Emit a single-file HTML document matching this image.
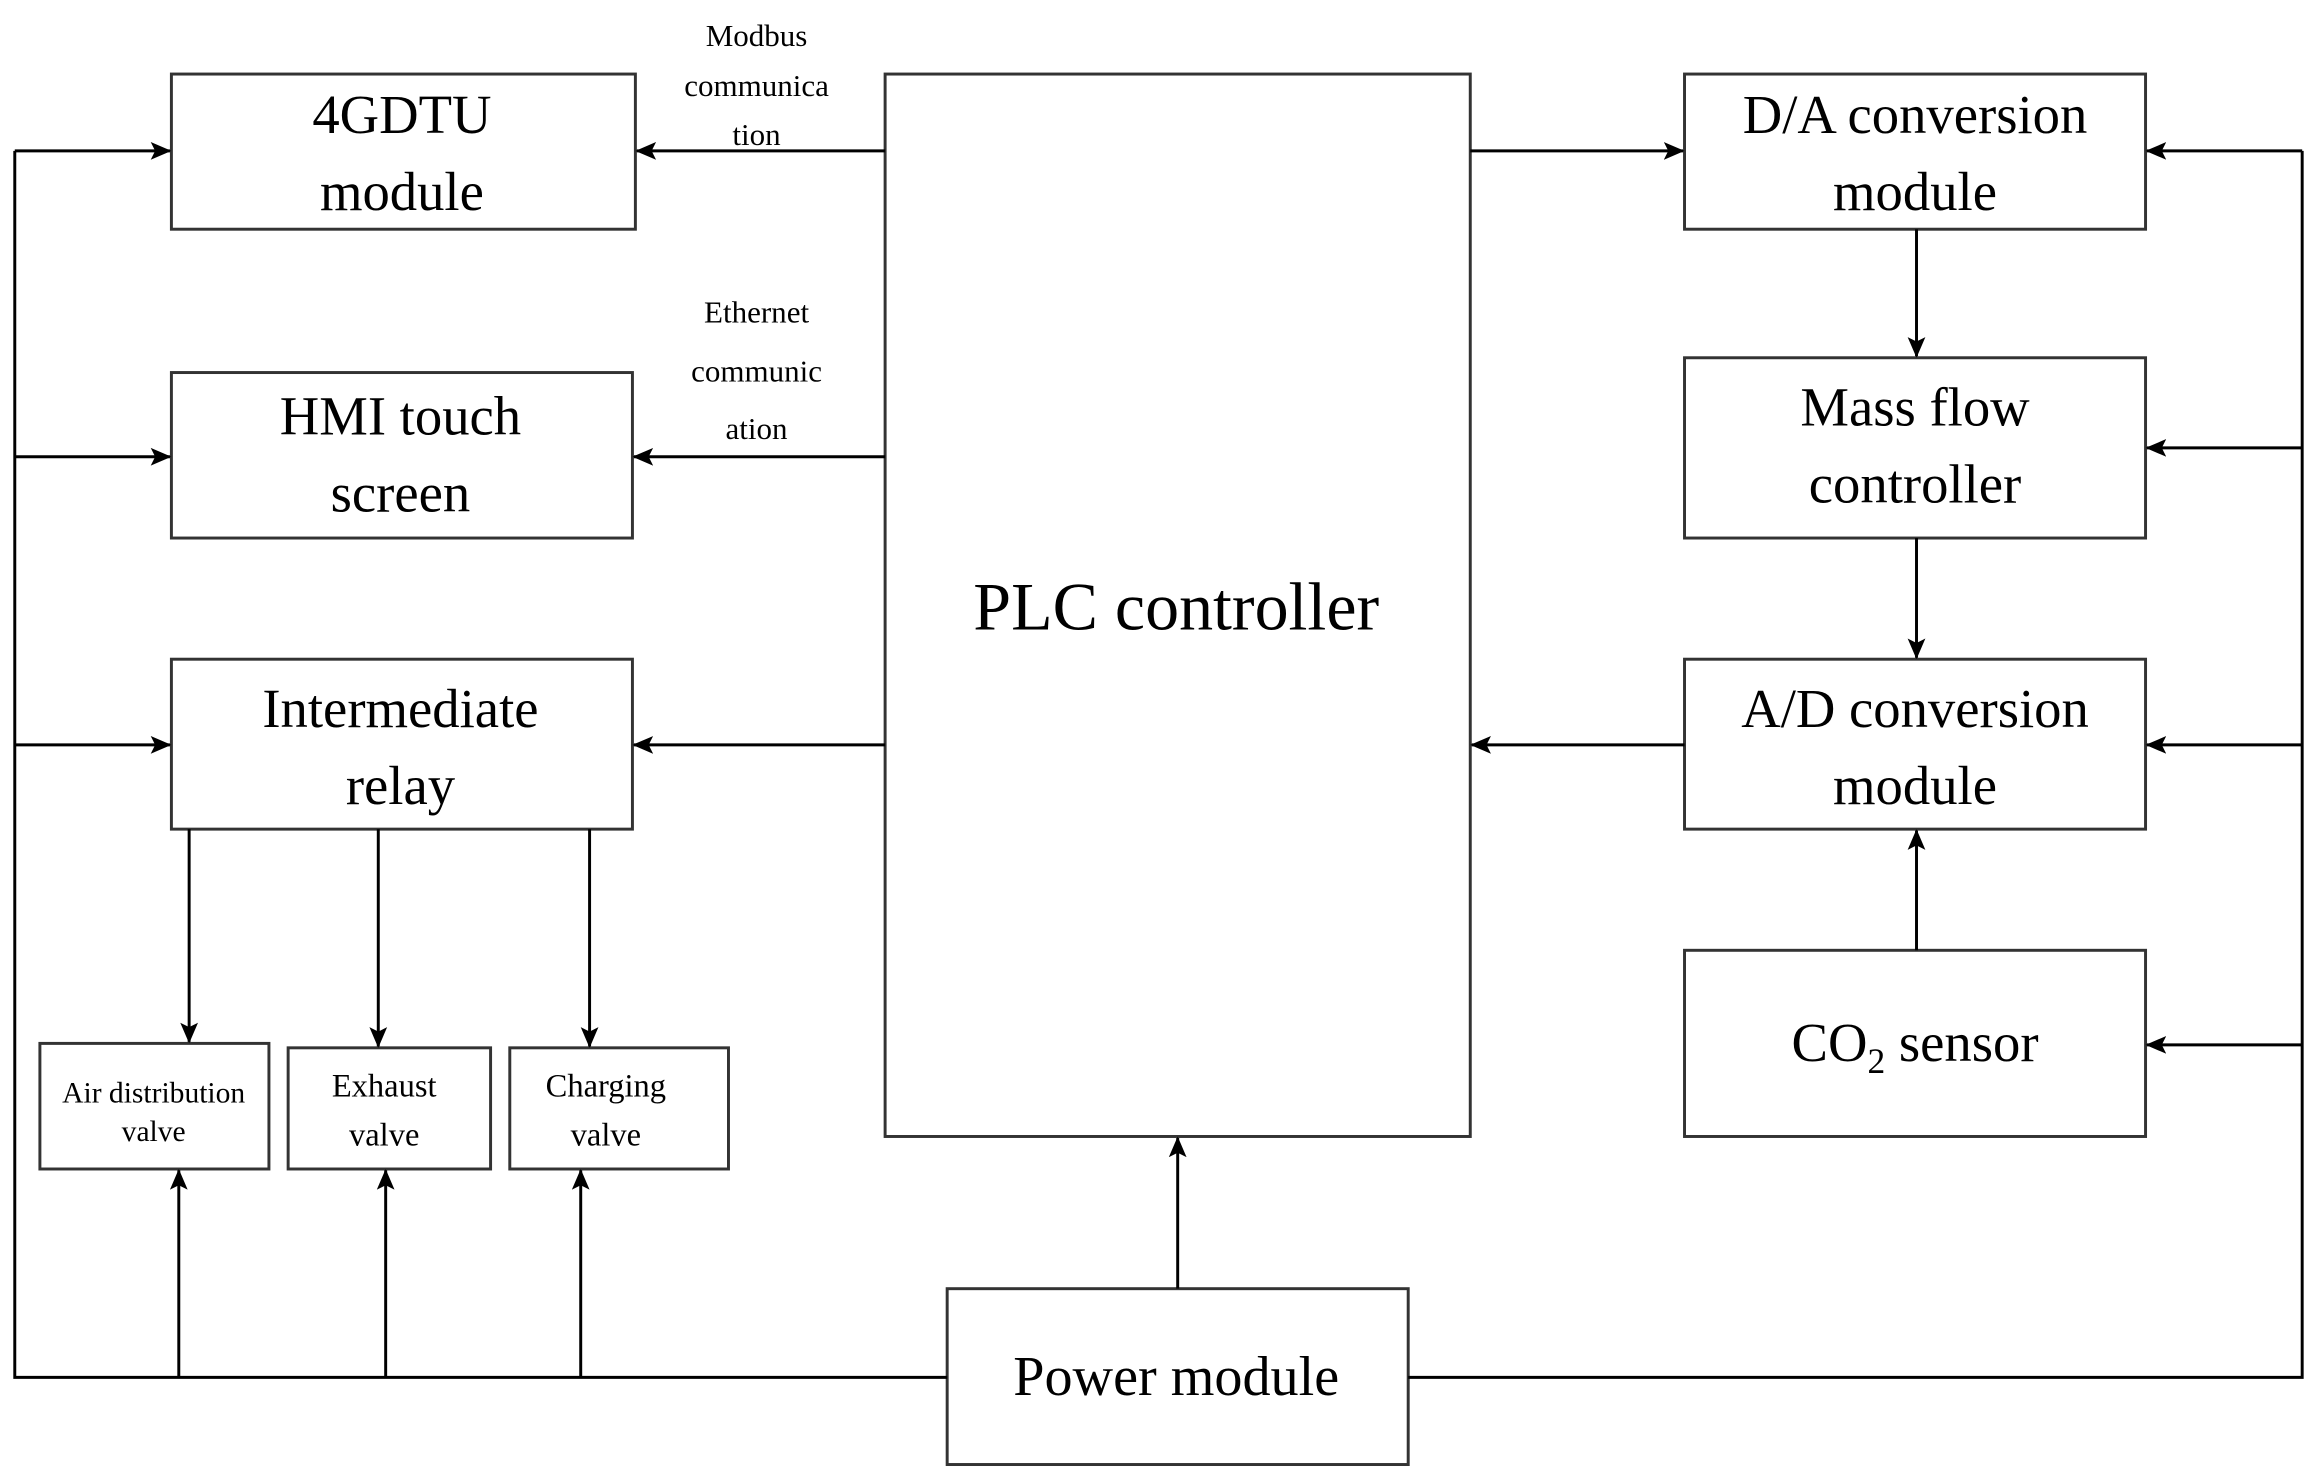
<!DOCTYPE html>
<html><head><meta charset="utf-8"><style>html,body{margin:0;padding:0;background:#fff}svg{display:block}</style></head>
<body>
<svg width="2314" height="1478" viewBox="0 0 1566 1000" xmlns="http://www.w3.org/2000/svg" font-family="'Liberation Serif', serif" fill="#000">
<defs>
<marker id="a" markerWidth="14" markerHeight="14" refX="13" refY="7" orient="auto" markerUnits="userSpaceOnUse" viewBox="0 0 14 14">
<path d="M0,1 L14,7 L0,13 L3,7 z" fill="#000"/>
</marker>
</defs>
<g fill="none" stroke="#333" stroke-width="2">
<rect x="116" y="50" width="314" height="105"/>
<rect x="116" y="252" width="312" height="112"/>
<rect x="116" y="446" width="312" height="115"/>
<rect x="599" y="50" width="396" height="719"/>
<rect x="27" y="706" width="155" height="85"/>
<rect x="195" y="709" width="137" height="82"/>
<rect x="345" y="709" width="148" height="82"/>
<rect x="641" y="872" width="312" height="119"/>
<rect x="1140" y="50" width="312" height="105"/>
<rect x="1140" y="242" width="312" height="122"/>
<rect x="1140" y="446" width="312" height="115"/>
<rect x="1140" y="643" width="312" height="126"/>
</g>
<g fill="none" stroke="#000" stroke-width="2">
<polyline points="10,102 10,932 641,932"/>
<polyline points="953,932 1558,932 1558,102"/>
</g>
<g fill="none" stroke="#000" stroke-width="2" marker-end="url(#a)">
<line x1="10" y1="102" x2="115" y2="102"/>
<line x1="10" y1="309" x2="115" y2="309"/>
<line x1="10" y1="504" x2="115" y2="504"/>
<line x1="599" y1="102" x2="431" y2="102"/>
<line x1="599" y1="309" x2="429" y2="309"/>
<line x1="599" y1="504" x2="429" y2="504"/>
<line x1="128" y1="561" x2="128" y2="705"/>
<line x1="256" y1="561" x2="256" y2="708"/>
<line x1="399" y1="561" x2="399" y2="708"/>
<line x1="121" y1="932" x2="121" y2="792"/>
<line x1="261" y1="932" x2="261" y2="792"/>
<line x1="393" y1="932" x2="393" y2="792"/>
<line x1="797" y1="872" x2="797" y2="770"/>
<line x1="995" y1="102" x2="1139" y2="102"/>
<line x1="1140" y1="504" x2="996" y2="504"/>
<line x1="1297" y1="155" x2="1297" y2="241"/>
<line x1="1297" y1="364" x2="1297" y2="445"/>
<line x1="1297" y1="643" x2="1297" y2="562"/>
<line x1="1558" y1="102" x2="1453" y2="102"/>
<line x1="1558" y1="303" x2="1453" y2="303"/>
<line x1="1558" y1="504" x2="1453" y2="504"/>
<line x1="1558" y1="707" x2="1453" y2="707"/>
</g>
<g text-anchor="middle" font-size="37">
<text x="272" y="90">4GDTU</text>
<text x="272" y="142">module</text>
<text x="271" y="294">HMI touch</text>
<text x="271" y="346">screen</text>
<text x="271" y="492">Intermediate</text>
<text x="271" y="544">relay</text>
<text x="796" y="426" font-size="46">PLC controller</text>
<text x="796" y="944" font-size="38">Power module</text>
<text x="1296" y="90">D/A conversion</text>
<text x="1296" y="142">module</text>
<text x="1296" y="288">Mass flow</text>
<text x="1296" y="340">controller</text>
<text x="1296" y="492">A/D conversion</text>
<text x="1296" y="544">module</text>
<text x="1296" y="718">CO<tspan font-size="24" dy="8">2</tspan><tspan dy="-8"> sensor</tspan></text>
</g>
<g text-anchor="middle" font-size="21">
<text x="512" y="31">Modbus</text>
<text x="512" y="65">communica</text>
<text x="512" y="98">tion</text>
<text x="512" y="218">Ethernet</text>
<text x="512" y="258">communic</text>
<text x="512" y="297">ation</text>
<text x="104" y="746" font-size="20">Air distribution</text>
<text x="104" y="772" font-size="20">valve</text>
<text x="260" y="742" font-size="22">Exhaust</text>
<text x="260" y="775" font-size="22">valve</text>
<text x="410" y="742" font-size="22">Charging</text>
<text x="410" y="775" font-size="22">valve</text>
</g>
</svg>
</body></html>
